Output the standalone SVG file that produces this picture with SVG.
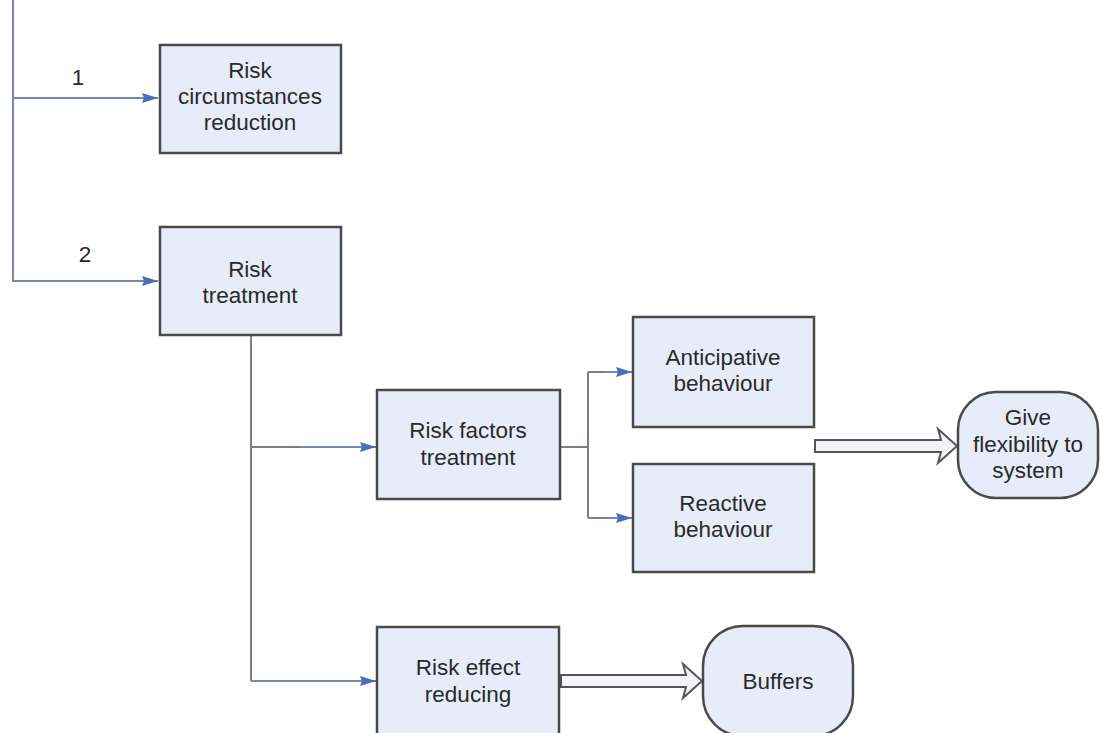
<svg xmlns="http://www.w3.org/2000/svg" width="1100" height="733" viewBox="0 0 1100 733">
<defs>
<marker id="ah" viewBox="0 0 16 10" refX="16" refY="5" markerWidth="16" markerHeight="10" markerUnits="userSpaceOnUse" orient="auto">
<path d="M0,0 L16,5 L0,10 L2,5 Z" fill="#4a6cba"/>
</marker>
<style>
.box{fill:#e6edf8;stroke:#4a4a4a;stroke-width:2.5}
.ln{fill:none;stroke:#7489ad;stroke-width:2}
.gl{fill:none;stroke:#7a7f88;stroke-width:2}
.hol{fill:#f2f4f8;stroke:#555;stroke-width:2}
text{font-family:"Liberation Sans",Arial,sans-serif;font-size:22.5px;fill:#2a2a2a;text-anchor:middle}
</style>
</defs>
<rect width="1100" height="733" fill="#ffffff"/>
<g id="connectors">
<path class="ln" d="M13,0 V282"/>
<path class="ln" d="M13,98 H158" marker-end="url(#ah)"/>
<path class="ln" d="M13,281 H158" marker-end="url(#ah)"/>
<path class="gl" d="M251,336 V681"/>
<path class="ln" d="M251,681 H376" marker-end="url(#ah)"/>
<path class="gl" d="M251,447 H300"/>
<path class="ln" d="M300,447 H376" marker-end="url(#ah)"/>
<path class="gl" d="M560,447 H588 M588,372 V518"/>
<path class="gl" d="M588,372 H605"/>
<path class="ln" d="M605,372 H632" marker-end="url(#ah)"/>
<path class="gl" d="M588,518 H605"/>
<path class="ln" d="M605,518 H632" marker-end="url(#ah)"/>
<polygon class="hol" points="815,440 941,440 938,429 957,446 938,463 941,452 815,452"/>
<polygon class="hol" points="561,675 686,675 683,664 702,681 683,698 686,687 561,687"/>
<text x="78" y="85">1</text>
<text x="85" y="262">2</text>
</g>
<g id="n1">
<rect class="box" x="160" y="45" width="181" height="108"/>
<text x="250" y="78">Risk</text>
<text x="250" y="104">circumstances</text>
<text x="250" y="130">reduction</text>
</g>
<g id="n2">
<rect class="box" x="160" y="227" width="181" height="108"/>
<text x="250" y="277">Risk</text>
<text x="250" y="303">treatment</text>
</g>
<g id="n3">
<rect class="box" x="377" y="390" width="183" height="109"/>
<text x="468" y="438">Risk factors</text>
<text x="468" y="465">treatment</text>
</g>
<g id="n4">
<rect class="box" x="633" y="317" width="181" height="110"/>
<text x="723" y="365">Anticipative</text>
<text x="723" y="391">behaviour</text>
</g>
<g id="n5">
<rect class="box" x="633" y="464" width="181" height="108"/>
<text x="723" y="511">Reactive</text>
<text x="723" y="537">behaviour</text>
</g>
<g id="n6">
<rect class="box" x="958" y="392" width="140" height="106" rx="38" ry="38"/>
<text x="1028" y="425">Give</text>
<text x="1028" y="452">flexibility to</text>
<text x="1028" y="478">system</text>
</g>
<g id="n7">
<rect class="box" x="377" y="627" width="182" height="110"/>
<text x="468" y="675">Risk effect</text>
<text x="468" y="702">reducing</text>
</g>
<g id="n8">
<rect class="box" x="703" y="626" width="150" height="110" rx="40" ry="40"/>
<text x="778" y="689">Buffers</text>
</g>
</svg>
